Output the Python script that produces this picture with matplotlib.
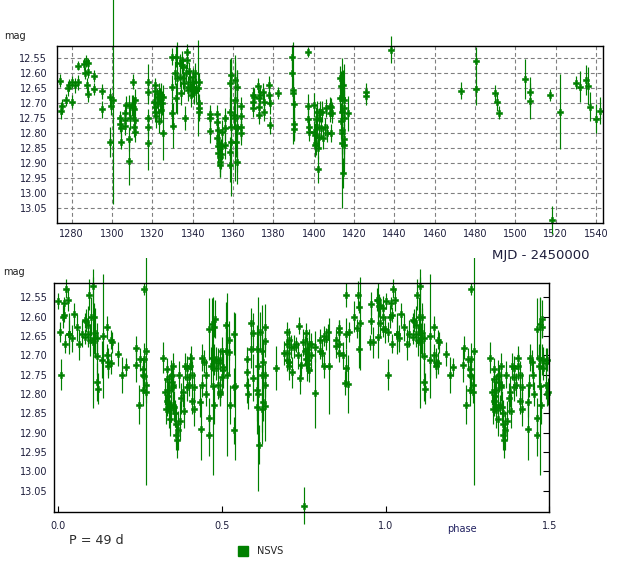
import matplotlib
matplotlib.use('Agg')
import matplotlib.pyplot as plt
import matplotlib.patches as mpatches
from matplotlib.transforms import Bbox, TransformedBbox
import numpy as np

plt.rcParams['font.family'] = ['DejaVu Sans']

# ── data (MJD - 2450000, mag, error) ──
mjd = [
    1274.4, 1274.6, 1275.3, 1277.4, 1278.0, 1278.6, 1280.2, 1280.3, 1281.8, 1283.0,
    1283.3, 1286.3, 1286.8, 1287.2, 1287.5, 1288.0, 1288.1, 1288.2, 1291.2, 1291.2,
    1295.0, 1295.0, 1298.8, 1299.2, 1299.4, 1300.3,
    1304.1, 1304.1, 1304.3, 1304.2, 1306.3, 1306.3, 1306.6, 1306.9, 1308.3, 1308.4,
    1308.6, 1309.1, 1310.0, 1310.4, 1310.4, 1311.0, 1311.0, 1311.6, 1311.6, 1311.3,
    1317.9, 1317.9, 1317.9, 1318.0, 1318.0, 1321.2, 1321.5, 1320.7, 1321.2, 1321.5,
    1322.0, 1322.3, 1322.8, 1323.1, 1323.5, 1323.8, 1324.2, 1324.5, 1324.8, 1325.3,
    1325.3,
    1329.9, 1329.9, 1329.9, 1330.2, 1331.2, 1331.7, 1331.9, 1332.1, 1333.7, 1333.7,
    1334.0, 1334.5, 1334.8, 1335.0, 1335.4, 1335.7, 1336.2, 1336.5, 1337.0, 1337.3,
    1337.5, 1337.9, 1338.2, 1338.6, 1339.0, 1339.4, 1340.0, 1340.3, 1340.6, 1341.2,
    1341.6, 1342.5, 1343.1, 1343.1, 1343.3, 1343.3,
    1348.4, 1348.4, 1348.4, 1352.0, 1352.0, 1352.3, 1352.0, 1352.3, 1352.5, 1353.1,
    1353.3, 1353.3, 1353.6, 1353.9, 1354.4, 1354.5, 1355.8, 1356.1, 1356.1, 1358.3,
    1358.6, 1358.8, 1358.3, 1358.3, 1359.1, 1359.0, 1360.3, 1360.8, 1360.8, 1361.0,
    1361.4, 1361.9, 1361.9, 1362.1, 1361.9, 1363.9, 1363.9, 1363.9, 1364.1,
    1369.8, 1369.8, 1370.1, 1370.5, 1372.6, 1372.8, 1373.0, 1373.1, 1373.4, 1374.8,
    1375.1, 1375.4, 1377.6, 1377.6, 1378.1, 1378.4, 1382.2,
    1389.1, 1389.4, 1389.6, 1389.8, 1390.2, 1390.2, 1390.4,
    1397.2, 1397.2, 1397.2, 1397.5, 1397.5, 1400.0, 1400.3, 1400.5, 1400.8, 1401.2,
    1401.2, 1401.6, 1401.6, 1401.9, 1402.1, 1402.4, 1402.8, 1403.3, 1403.6, 1404.1,
    1404.4, 1405.8, 1406.2, 1406.5, 1407.9, 1407.9, 1408.5, 1409.0, 1408.5, 1413.2,
    1413.5, 1413.2, 1414.0, 1413.5, 1414.0, 1414.0, 1414.3, 1414.2, 1414.5, 1414.8,
    1414.2, 1414.8, 1414.8, 1415.0, 1415.0, 1416.9,
    1425.8, 1425.8, 1438.3, 1472.9, 1480.7, 1480.7, 1489.8, 1490.7, 1491.8, 1504.7,
    1507.2, 1507.2, 1517.2, 1518.3, 1522.1, 1530.1, 1532.1, 1534.9, 1535.9, 1537.0,
    1540.0, 1542.0,
]
mag = [
    12.624, 12.724, 12.710, 12.690, 12.650, 12.640, 12.630, 12.695, 12.640, 12.630,
    12.575, 12.570, 12.600, 12.560, 12.640, 12.565, 12.595, 12.670, 12.610, 12.652,
    12.660, 12.720, 12.680, 12.828, 12.710, 12.690,
    12.750, 12.770, 12.783, 12.828, 12.733, 12.755, 12.776, 12.707, 12.820, 12.891,
    12.707, 12.750, 12.707, 12.628, 12.711, 12.778, 12.720, 12.689, 12.755, 12.794,
    12.628, 12.664, 12.750, 12.778, 12.831, 12.640, 12.660, 12.694, 12.711, 12.728,
    12.744, 12.678, 12.700, 12.760, 12.667, 12.689, 12.722, 12.672, 12.700, 12.798,
    12.678,
    12.544, 12.644, 12.733, 12.775, 12.600, 12.544, 12.683, 12.617, 12.567, 12.611,
    12.667, 12.556, 12.572, 12.617, 12.578, 12.633, 12.750, 12.600, 12.528, 12.556,
    12.644, 12.656, 12.594, 12.628, 12.672, 12.644, 12.611, 12.644, 12.661, 12.600,
    12.656, 12.650, 12.628, 12.700, 12.717, 12.728,
    12.736, 12.750, 12.791, 12.736, 12.761, 12.789, 12.817, 12.842, 12.864, 12.833,
    12.878, 12.906, 12.894, 12.869, 12.794, 12.844, 12.750, 12.783, 12.839, 12.633,
    12.728, 12.780, 12.861, 12.906, 12.606, 12.828, 12.739, 12.622, 12.689, 12.750,
    12.828, 12.644, 12.783, 12.780, 12.894, 12.709, 12.744, 12.778, 12.800,
    12.672, 12.694, 12.717, 12.678, 12.642, 12.683, 12.711, 12.739, 12.672, 12.661,
    12.694, 12.728, 12.639, 12.672, 12.700, 12.772, 12.667,
    12.544, 12.600, 12.667, 12.656, 12.702, 12.769, 12.786,
    12.529, 12.709, 12.753, 12.778, 12.794, 12.706, 12.794, 12.839, 12.806, 12.753,
    12.833, 12.728, 12.778, 12.850, 12.920, 12.750, 12.811, 12.728, 12.783, 12.728,
    12.817, 12.778, 12.717, 12.800, 12.709, 12.733, 12.711, 12.731, 12.800, 12.617,
    12.642, 12.683, 12.683, 12.758, 12.789, 12.833, 12.931, 12.800, 12.639, 12.689,
    12.728, 12.750, 12.839, 12.820, 12.717, 12.733,
    12.661, 12.676, 12.522, 12.658, 12.558, 12.652, 12.667, 12.697, 12.731, 12.619,
    12.661, 12.691, 12.672, 13.089, 12.728, 12.631, 12.644, 12.622, 12.642, 12.711,
    12.751, 12.724,
]
err = [
    0.022, 0.030, 0.025, 0.020, 0.025, 0.020, 0.020, 0.022, 0.025, 0.025,
    0.015, 0.020, 0.020, 0.020, 0.025, 0.015, 0.020, 0.025, 0.020, 0.020,
    0.025, 0.028, 0.030, 0.050, 0.030, 0.345,
    0.025, 0.025, 0.030, 0.025, 0.030, 0.025, 0.030, 0.030, 0.040, 0.080,
    0.035, 0.040, 0.035, 0.025, 0.040, 0.035, 0.040, 0.035, 0.040, 0.035,
    0.060, 0.040, 0.030, 0.030, 0.090, 0.025, 0.030, 0.030, 0.030, 0.035,
    0.040, 0.030, 0.035, 0.040, 0.035, 0.040, 0.045, 0.040, 0.040, 0.090,
    0.040,
    0.030, 0.040, 0.050, 0.075, 0.040, 0.035, 0.050, 0.120, 0.030, 0.035,
    0.040, 0.030, 0.030, 0.035, 0.030, 0.035, 0.040, 0.030, 0.025, 0.030,
    0.035, 0.035, 0.030, 0.035, 0.040, 0.035, 0.030, 0.035, 0.040, 0.035,
    0.040, 0.160, 0.030, 0.030, 0.035, 0.030,
    0.030, 0.030, 0.040, 0.030, 0.035, 0.040, 0.040, 0.045, 0.045, 0.040,
    0.050, 0.040, 0.050, 0.050, 0.040, 0.045, 0.035, 0.040, 0.045, 0.080,
    0.050, 0.230, 0.050, 0.055, 0.050, 0.050, 0.045, 0.060, 0.050, 0.210,
    0.050, 0.055, 0.050, 0.190, 0.035, 0.030, 0.035, 0.045, 0.040,
    0.025, 0.030, 0.030, 0.030, 0.025, 0.030, 0.035, 0.030, 0.030, 0.030,
    0.035, 0.030, 0.030, 0.035, 0.035, 0.030, 0.020,
    0.040, 0.050, 0.170, 0.040, 0.050, 0.050, 0.040,
    0.015, 0.040, 0.035, 0.030, 0.030, 0.040, 0.035, 0.040, 0.040, 0.040,
    0.040, 0.035, 0.040, 0.035, 0.045, 0.035, 0.040, 0.035, 0.035, 0.035,
    0.035, 0.030, 0.030, 0.030, 0.030, 0.030, 0.030, 0.035, 0.030, 0.040,
    0.050, 0.050, 0.060, 0.060, 0.080, 0.070, 0.050, 0.250, 0.050, 0.060,
    0.060, 0.180, 0.060, 0.050, 0.060, 0.058,
    0.030, 0.030, 0.045, 0.028, 0.045, 0.055, 0.028, 0.030, 0.023, 0.066,
    0.050, 0.060, 0.020, 0.048, 0.125, 0.023, 0.053, 0.050, 0.064, 0.047,
    0.047, 0.045,
]

PERIOD = 48.65      # fold period (label rounds to 49 d)
T0 = 1287.2         # epoch of phase zero
mag_ticks = [12.55, 12.60, 12.65, 12.70, 12.75, 12.80, 12.85, 12.90, 12.95, 13.00, 13.05]
mjd_ticks = list(range(1280, 1541, 20))
phase_ticks = [0.0, 0.5, 1.0, 1.5]

GREEN = '#008000'
TXT = '#1e1e3c'
W, H = 621, 570

t = np.array(mjd)
m = np.array(mag)
e = np.array(err)

fig = plt.figure(figsize=(W / 100, H / 100), dpi=100)

def fx(px):
    return px / W

def fy(py):
    return 1 - py / H

ebkw = dict(fmt='P', color=GREEN, ecolor=GREEN, elinewidth=0.85,
            markersize=4.0, markeredgewidth=0.4, markeredgecolor=GREEN, capsize=0)

# ── top panel: light curve ───────────────────────────────────
ax1 = fig.add_axes([fx(57), fy(223.3), fx(603.3) - fx(57), fy(46) - fy(223.3)])
c1 = ax1.errorbar(t, m, yerr=e, **ebkw)
for art in [c1.lines[0], *c1.lines[2]]:
    art.set_clip_on(False)
ax1.set_xlim(1272.7, 1543.6)
ax1.set_ylim(13.10, 12.509)
ax1.set_xticks(mjd_ticks)
ax1.set_yticks(mag_ticks)
ax1.set_yticklabels(['%.2f' % v for v in mag_ticks])
ax1.grid(True, color='#808080', linestyle=(0, (3.5, 2.5)), linewidth=0.8)
ax1.tick_params(length=0, labelsize=7, labelcolor=TXT)
ax1.tick_params(axis='y', pad=7)
ax1.tick_params(axis='x', pad=4)
for s in ax1.spines.values():
    s.set_linewidth(1.0)

# ── bottom panel: phased curve ───────────────────────────────
phase = ((t - T0) / PERIOD) % 1.0
rep = phase + 1.0 <= 1.5
ph = np.concatenate([phase, phase[rep] + 1.0])
mm = np.concatenate([m, m[rep]])
ee = np.concatenate([e, e[rep]])

ax2 = fig.add_axes([fx(54.3), fy(512.3), fx(549.3) - fx(54.3), fy(283.3) - fy(512.3)])
c2 = ax2.errorbar(ph, mm, yerr=ee, **ebkw)
clip = TransformedBbox(Bbox.from_extents(0, 0, 1, fy(258)), fig.transFigure)
for art in [c2.lines[0], *c2.lines[2]]:
    art.set_clip_path(None)
    art.set_clip_box(clip)
ax2.set_xlim(-0.012, 1.5)
ax2.set_ylim(13.106, 12.514)
ax2.set_xticks(phase_ticks)
ax2.set_xticklabels(['0.0', '0.5', '1.0', '1.5'])
ax2.set_yticks(mag_ticks)
ax2.set_yticklabels(['%.2f' % v for v in mag_ticks])
ax2.tick_params(direction='in', length=4, labelsize=7, labelcolor=TXT)
ax2.tick_params(axis='y', left=False, right=True, labelleft=True, pad=5)
ax2.tick_params(axis='x', pad=6)
for s in ax2.spines.values():
    s.set_linewidth(1.0)

# ── labels ───────────────────────────────────────────────────
fig.text(fx(4), fy(36), 'mag', fontsize=7, color='#222222', va='center')
fig.text(fx(3), fy(272), 'mag', fontsize=7, color='#222222', va='center')
fig.text(fx(492), fy(255), 'MJD - 2450000', fontsize=9.5, color=TXT, va='center')
fig.text(fx(447), fy(529), 'phase', fontsize=7, color='#202060', va='center')
fig.text(fx(69), fy(540), 'P = 49 d', fontsize=9.2, color='#2a2a2a', va='center')
fig.patches.append(mpatches.Rectangle((fx(238), fy(556)), fx(10), 10 / H,
                                      transform=fig.transFigure, color=GREEN))
fig.text(fx(257), fy(551), 'NSVS', fontsize=7, color='#222222', va='center')

fig.savefig('out.png', dpi=100, facecolor='white')
